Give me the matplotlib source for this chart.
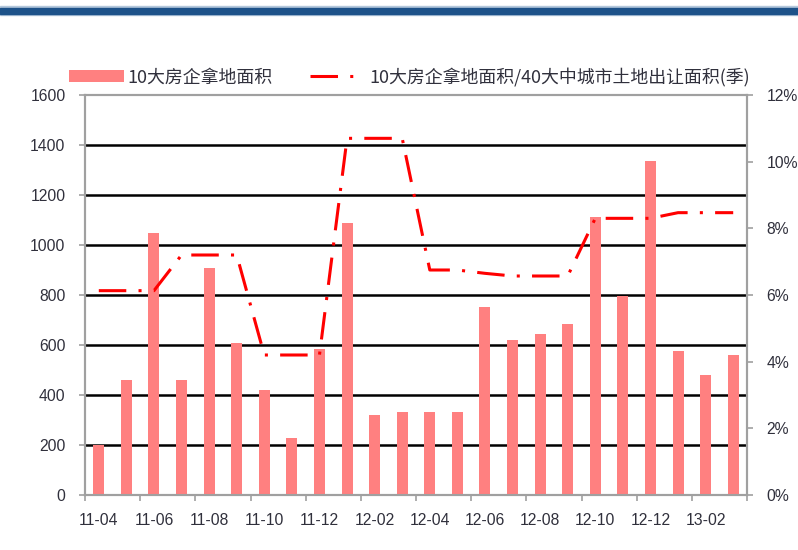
import numpy as np
import matplotlib
matplotlib.use('Agg')
import matplotlib.pyplot as plt
from matplotlib.patches import Rectangle
from matplotlib.ticker import FixedLocator, NullFormatter, FuncFormatter

# data
months = ['11-04', '11-05', '11-06', '11-07', '11-08', '11-09', '11-10', '11-11',
          '11-12', '12-01', '12-02', '12-03', '12-04', '12-05', '12-06', '12-07',
          '12-08', '12-09', '12-10', '12-11', '12-12', '13-01', '13-02', '13-03']
land_area = [200, 460, 1050, 460, 907, 607, 420, 227,
             585, 1087, 320, 331, 333, 331, 753, 620,
             645, 683, 1111, 796, 1337, 577, 480, 559]
share_pct = [6.13, 6.13, 6.13, 7.2, 7.2, 7.2, 4.2, 4.2,
             4.2, 10.7, 10.7, 10.7, 6.75, 6.75, 6.65, 6.57,
             6.57, 6.57, 8.3, 8.3, 8.3, 8.47, 8.47, 8.47]
left_ticks = [0, 200, 400, 600, 800, 1000, 1200, 1400, 1600]
right_ticks = [0, 2, 4, 6, 8, 10, 12]

bar_label = '10大房企拿地面积'
line_label = '10大房企拿地面积/40大中城市土地出让面积(季)'

tick_font = 'Liberation Sans'
cjk_font = ['Noto Sans CJK SC', 'DejaVu Sans']
tick_color = '#30303c'
spine_color = '#a0a0a0'

fig = plt.figure(figsize=(7.98, 5.50), dpi=100)
ax = fig.add_axes([85/798, 55/550, 662/798, 400/550])
ax2 = ax.twinx()

x = np.arange(len(months))
bars = ax.bar(x, land_area, width=0.4, color='#ff8080', zorder=3, label=bar_label)
line, = ax2.plot(x, share_pct, color='#ff0000', lw=2.2, dashes=(9, 4, 1, 4),
                 zorder=4, label=line_label)

ax.set_xlim(-0.5, len(months) - 0.5)
ax.set_ylim(0, 1600)
ax2.set_ylim(0, 12)

# black gridlines at inner left ticks
for v in left_ticks[1:-1]:
    ax.axhline(v, color='black', lw=1.8, zorder=1)

ax.set_yticks(left_ticks)
ax.set_yticklabels([str(v) for v in left_ticks])
ax2.set_yticks(right_ticks)
ax2.yaxis.set_major_formatter(FuncFormatter(lambda v, p: '%d%%' % v))

# tick marks at boundaries every two months, labels under first month of pair
ax.xaxis.set_major_locator(FixedLocator(np.arange(-0.5, len(months), 2)))
ax.xaxis.set_major_formatter(NullFormatter())
ax.xaxis.set_minor_locator(FixedLocator(x[::2]))
ax.set_xticklabels(months[::2], minor=True)

for a in (ax, ax2):
    for s in a.spines.values():
        s.set_color(spine_color)
        s.set_linewidth(1.5)
    a.tick_params(axis='both', which='major', direction='out', length=4,
                  width=1.2, color=spine_color, labelsize=11.3,
                  labelcolor=tick_color, pad=10)
ax.tick_params(axis='x', which='minor', length=0, pad=13, labelsize=11.3,
               labelcolor=tick_color)
for lab in ax.get_xticklabels(minor=True) + ax.get_yticklabels() + ax2.get_yticklabels():
    lab.set_family(tick_font)

ax.set_zorder(ax2.get_zorder() - 1)
ax.patch.set_visible(True)
ax.patch.set_facecolor('white')
ax2.patch.set_visible(False)

# legend across the top
fig.legend([bars, line], [bar_label, line_label], ncol=2, loc='center left',
           bbox_to_anchor=(69/798, 1 - 77/550), frameon=False,
           prop={'family': cjk_font, 'size': 12.9}, handlelength=3.07,
           handleheight=0.7, handletextpad=0.2, columnspacing=2.1,
           borderpad=0, borderaxespad=0, labelcolor='#30303c')

# blue band at the top of the page
fig.patches.append(Rectangle((0, 1 - 15/550), 1, 9/550, transform=fig.transFigure,
                             color='#b4c8dc', zorder=0))
fig.patches.append(Rectangle((0, 1 - 13.5/550), 1, 6/550, transform=fig.transFigure,
                             color='#1d5289', zorder=1))

plt.savefig('out.png', dpi=100)
